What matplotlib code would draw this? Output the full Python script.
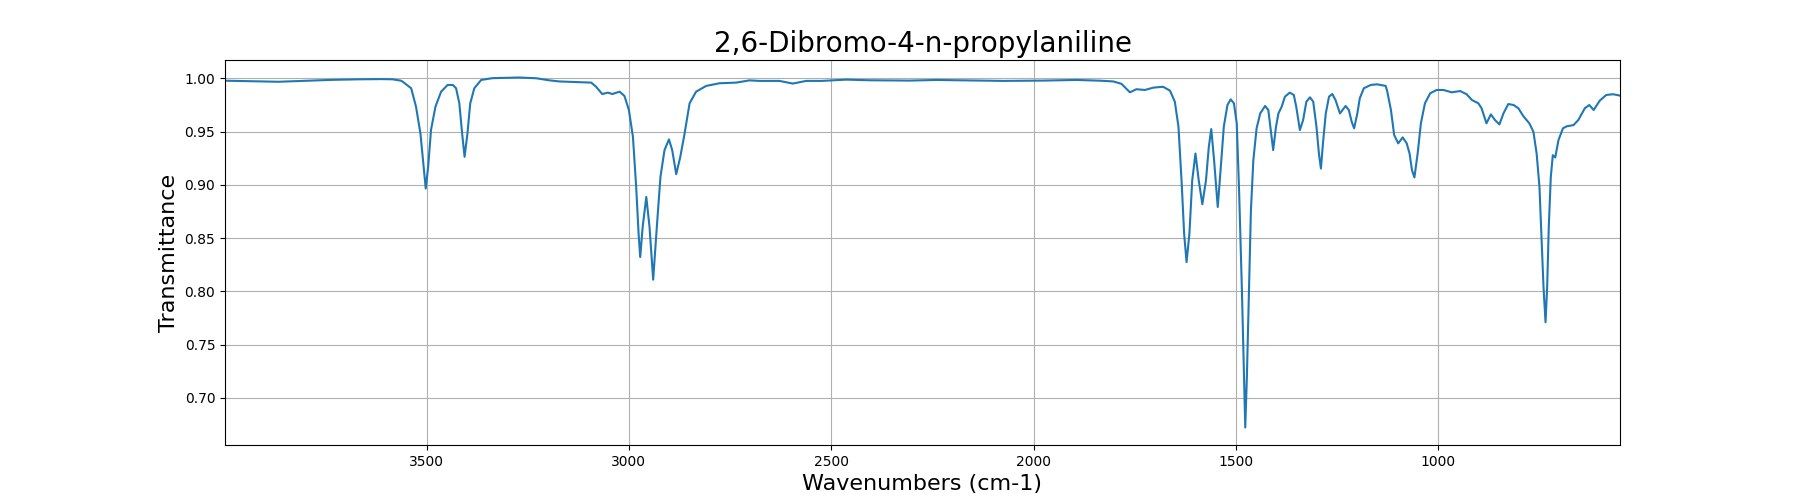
import matplotlib
matplotlib.use('Agg')
import matplotlib.pyplot as plt

# spectrum points (wavenumber, transmittance)
wavenumbers = [
    3998, 3866, 3733, 3666, 3610, 3584, 3563, 3559, 3538, 3526, 3515, 3507,
    3502, 3496, 3489, 3478, 3464, 3448, 3435, 3427, 3419, 3412, 3406, 3399,
    3392, 3382, 3365, 3337, 3271, 3229, 3196, 3172, 3093, 3081, 3066, 3052,
    3041, 3023, 3011, 3000, 2990, 2982, 2976, 2972, 2966, 2957, 2949, 2940,
    2931, 2922, 2912, 2901, 2893, 2883, 2873, 2863, 2850, 2834, 2809, 2776,
    2735, 2702, 2677, 2628, 2595, 2562, 2524, 2463, 2405, 2306, 2240, 2141,
    2075, 1977, 1894, 1836, 1803, 1783, 1762, 1746, 1725, 1704, 1680, 1663,
    1651, 1642, 1634, 1628, 1622, 1615, 1608, 1600, 1592, 1583, 1574, 1567,
    1561, 1554, 1545, 1538, 1530, 1521, 1513, 1505, 1498, 1492, 1485, 1480,
    1477, 1473, 1468, 1463, 1457, 1449, 1440, 1428, 1420, 1413, 1408, 1401,
    1395, 1387, 1379, 1367, 1357, 1351, 1342, 1334, 1326, 1317, 1309, 1301,
    1295, 1290, 1285, 1278, 1270, 1262, 1254, 1243, 1229, 1221, 1214, 1208,
    1200, 1194, 1184, 1167, 1151, 1130, 1126, 1117, 1109, 1099, 1088, 1078,
    1071, 1065, 1059, 1051, 1043, 1033, 1020, 1004, 987, 967, 946, 930,
    917, 901, 893, 881, 870, 860, 849, 839, 827, 814, 802, 790, 775, 765,
    757, 750, 745, 740, 735, 731, 727, 722, 717, 711, 703, 692, 682, 666,
    654, 638, 627, 616, 601, 585, 568, 551,
]
transmittance = [
    0.9977, 0.9967, 0.9985, 0.9990, 0.9992, 0.9990, 0.9977, 0.9968, 0.9906, 0.9733, 0.9480, 0.9169,
    0.8965, 0.9170, 0.9514, 0.9733, 0.9874, 0.9937, 0.9937, 0.9906, 0.9765, 0.9480, 0.9263, 0.9480,
    0.9765, 0.9906, 0.9984, 1.0001, 1.0007, 1.0000, 0.9980, 0.9970, 0.9959, 0.9920, 0.9852, 0.9865,
    0.9852, 0.9874, 0.9834, 0.9702, 0.9450, 0.8980, 0.8540, 0.8322, 0.8604, 0.8886, 0.8604, 0.8110,
    0.8604, 0.9075, 0.9326, 0.9426, 0.9326, 0.9100, 0.9263, 0.9467, 0.9765, 0.9874, 0.9928, 0.9953,
    0.9959, 0.9980, 0.9975, 0.9975, 0.9950, 0.9975, 0.9975, 0.9987, 0.9981, 0.9978, 0.9984, 0.9978,
    0.9975, 0.9978, 0.9984, 0.9977, 0.9970, 0.9948, 0.9868, 0.9897, 0.9890, 0.9912, 0.9920, 0.9884,
    0.9780, 0.9545, 0.9012, 0.8540, 0.8275, 0.8540, 0.9043, 0.9294, 0.9043, 0.8818, 0.9043, 0.9357,
    0.9523, 0.9231, 0.8792, 0.9137, 0.9545, 0.9749, 0.9802, 0.9765, 0.9577, 0.8918, 0.7977, 0.7193,
    0.6723, 0.7193, 0.7977, 0.8761, 0.9231, 0.9530, 0.9670, 0.9740, 0.9702, 0.9480, 0.9326, 0.9545,
    0.9670, 0.9733, 0.9827, 0.9865, 0.9843, 0.9733, 0.9514, 0.9608, 0.9780, 0.9821, 0.9780, 0.9545,
    0.9294, 0.9153, 0.9389, 0.9670, 0.9827, 0.9852, 0.9796, 0.9670, 0.9740, 0.9702, 0.9592, 0.9530,
    0.9670, 0.9812, 0.9906, 0.9937, 0.9943, 0.9928, 0.9874, 0.9702, 0.9467, 0.9389, 0.9445, 0.9389,
    0.9294, 0.9137, 0.9069, 0.9294, 0.9577, 0.9765, 0.9859, 0.9890, 0.9890, 0.9868, 0.9880, 0.9850,
    0.9796, 0.9765, 0.9718, 0.9577, 0.9661, 0.9608, 0.9567, 0.9670, 0.9758, 0.9749, 0.9718, 0.9645, 0.9577, 0.9498,
    0.9294, 0.8980, 0.8510, 0.8040, 0.7710, 0.8040, 0.8604, 0.9075, 0.9278, 0.9257, 0.9420, 0.9530, 0.9550, 0.9560,
    0.9608, 0.9718, 0.9749, 0.9702, 0.9790, 0.9843, 0.9850, 0.9837,
]

fig, ax = plt.subplots(figsize=(18, 5), dpi=100)
ax.plot(wavenumbers, transmittance)
ax.set_xlim(max(wavenumbers), min(wavenumbers))
ax.set_title("2,6-Dibromo-4-n-propylaniline", fontsize=20)
ax.set_xlabel("Wavenumbers (cm-1)", fontsize=16)
ax.set_ylabel("Transmittance", fontsize=16)
ax.grid(True)
fig.savefig("out.png")
